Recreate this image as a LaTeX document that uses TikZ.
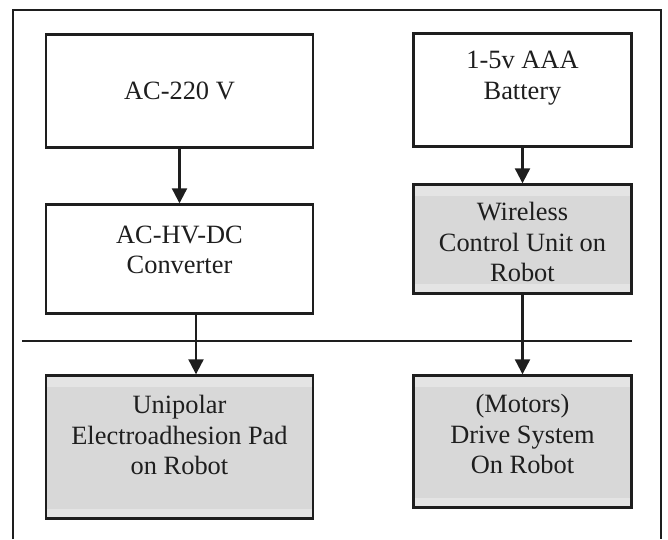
\documentclass[tikz,border=0pt]{standalone}
\usepackage{fontspec}
\setmainfont{Liberation Serif}
\usetikzlibrary{arrows.meta,calc}
\definecolor{ink}{HTML}{1E1E1E}
\definecolor{padgray}{HTML}{D8D8D8}
\definecolor{bandgray}{HTML}{E4E4E4}
\tikzset{
  blockbox/.style={draw=ink, line width=2.4pt, fill=white, inner sep=0pt, minimum width=267pt},
  shadedbox/.style={blockbox, fill=bandgray,
    path picture={\fill[padgray] ($(path picture bounding box.north west)+(0,11)$)
      rectangle ($(path picture bounding box.south east)+(0,-10)$);}},
  caption/.style={align=center, text=ink, inner sep=0pt,
    font=\fontsize{26.4}{30.5}\selectfont},
  flow/.style={draw=ink, line width=2.2pt, -{Triangle[width=15pt,length=15pt]}},
}
\begin{document}
\begin{tikzpicture}[x=1pt, y=-1pt]
\useasboundingbox (0,0) rectangle (668,539);
% outer frame, open at the bottom
\draw[ink, line width=2.4pt] (13,539) -- (13,10) -- (661,10) -- (661,539);
% left column
\node[blockbox, minimum height=113pt] (ac) at (179.5,91) {};
\node[caption] (ac-t) at (179.5,91) {AC-220 V};
\node[blockbox, minimum height=109pt] (conv) at (179.5,259) {};
\node[caption] (conv-t) at (179.5,250) {AC-HV-DC\\Converter};
\node[shadedbox, minimum height=143pt] (pad) at (179.5,447) {};
\node[caption] (pad-t) at (179.5,435) {Unipolar\\Electroadhesion Pad\\on Robot};
% right column
\node[blockbox, minimum width=218pt, minimum height=113pt] (batt) at (522.5,90) {};
\node[caption] (batt-t) at (522.5,78) {1-5v AAA\\Battery};
\node[shadedbox, minimum width=218pt, minimum height=109pt] (wcu) at (522.5,239) {};
\node[caption] (wcu-t) at (522.5,242) {Wireless\\Control Unit on\\Robot};
\node[shadedbox, minimum width=218pt, minimum height=132pt] (drive) at (522.5,441.5) {};
\node[caption] (drive-t) at (522.5,434) {(Motors)\\Drive System\\On Robot};
% divider between off-board and on-board parts
\coordinate (divL) at (22,341);
\coordinate (divR) at (632,341);
\draw[ink, line width=2pt] (divL) -- (divR);
% connectors
\coordinate (tap) at (196,0);
\draw[flow] (ac.south) -- (conv.north);
\draw[flow] (conv.south -| tap) -- (pad.north -| tap);
\draw[flow] (batt.south) -- (wcu.north);
\draw[flow] (wcu.south) -- (drive.north);
\end{tikzpicture}
\end{document}
